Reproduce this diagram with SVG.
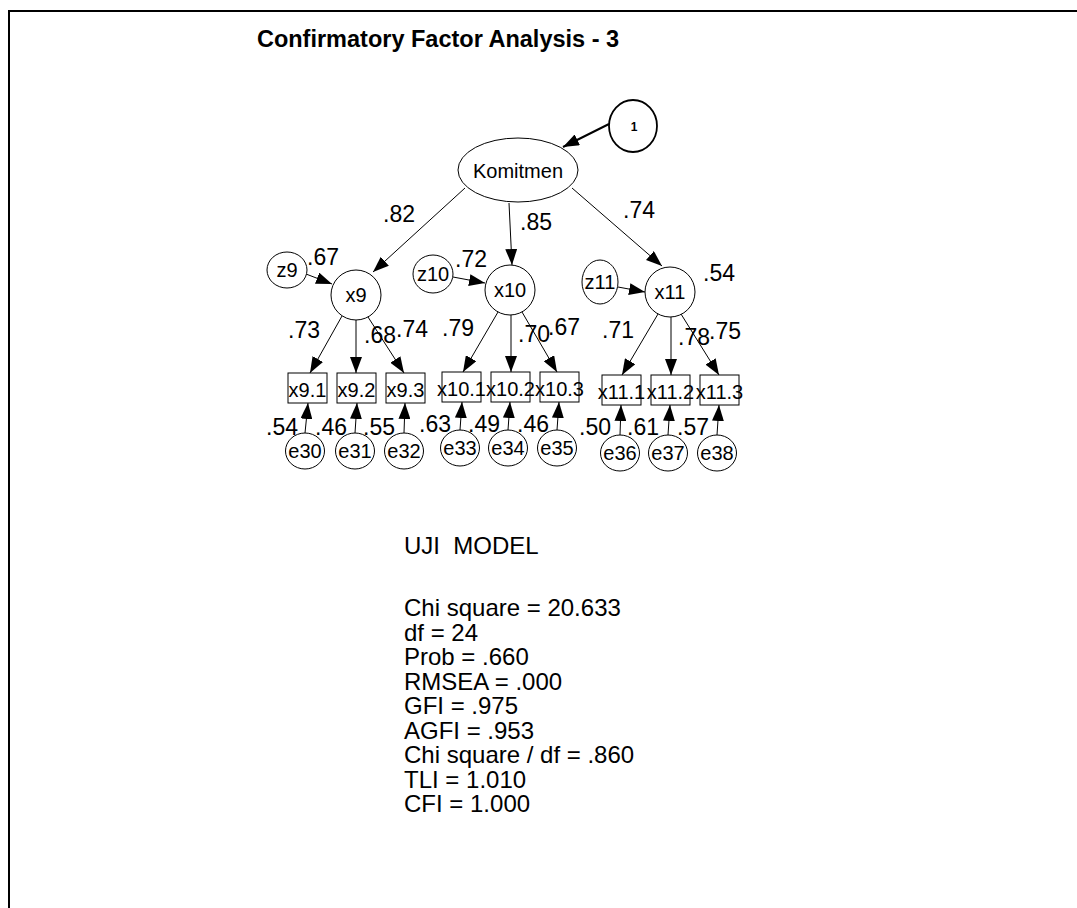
<svg xmlns="http://www.w3.org/2000/svg" width="1077" height="908" viewBox="0 0 1077 908">
<defs>
<marker id="ah" markerUnits="userSpaceOnUse" markerWidth="16" markerHeight="12" refX="16" refY="6" orient="auto">
<path d="M0,0 L16,6 L0,12 z" fill="#000"/>
</marker>
<style>
text{font-family:"Liberation Sans",Arial,sans-serif;fill:#000}
.n{font-size:20px;text-anchor:middle}
.b{font-size:20px;text-anchor:middle}
.l{font-size:23px}
.s{font-size:24px}
.sh{fill:#fff;stroke:#000;stroke-width:1}
.c line{stroke:#000;stroke-width:1;marker-end:url(#ah)}
.c line.th{stroke-width:2}
</style>
</defs>
<rect width="1077" height="908" fill="#fff"/>
<path d="M9,908 V11 H1077" fill="none" stroke="#000" stroke-width="2"/>
<text x="438" y="47" text-anchor="middle" style="font-size:23.5px;font-weight:bold">Confirmatory Factor Analysis - 3</text>

<g id="connectors" class="c">
<line class="th" x1="609" y1="124" x2="563" y2="147"/>
<line x1="465" y1="188" x2="373" y2="272"/>
<line x1="509" y1="203" x2="512" y2="265"/>
<line x1="572" y1="188" x2="662" y2="266"/>
<line x1="306" y1="274" x2="332" y2="284"/>
<line x1="453" y1="277" x2="485" y2="283"/>
<line x1="618" y1="287" x2="645" y2="292"/>
<line x1="342" y1="316" x2="310" y2="373"/>
<line x1="356" y1="320" x2="356" y2="373"/>
<line x1="368" y1="317" x2="404" y2="373"/>
<line x1="498" y1="312" x2="463" y2="372"/>
<line x1="511" y1="315" x2="511" y2="372"/>
<line x1="522" y1="312" x2="557" y2="372"/>
<line x1="658" y1="314" x2="622" y2="375"/>
<line x1="671" y1="317" x2="671" y2="375"/>
<line x1="681" y1="314" x2="719" y2="375"/>
<line x1="305" y1="433" x2="308" y2="403"/>
<line x1="355" y1="433" x2="357" y2="403"/>
<line x1="404" y1="433" x2="405" y2="403"/>
<line x1="460" y1="430" x2="462" y2="402"/>
<line x1="508" y1="430" x2="510" y2="402"/>
<line x1="557" y1="430" x2="559" y2="402"/>
<line x1="620" y1="435" x2="621" y2="405"/>
<line x1="668" y1="435" x2="670" y2="405"/>
<line x1="717" y1="435" x2="719" y2="405"/>
</g>

<g id="one"><ellipse class="sh" cx="633" cy="126" rx="24" ry="26" style="stroke-width:1.8"/><text x="634" y="131" text-anchor="middle" style="font-size:12px;font-weight:bold">1</text></g>
<g id="komitmen"><ellipse class="sh" cx="518" cy="170" rx="60" ry="32"/><text class="n" x="518" y="178">Komitmen</text></g>

<g id="z9"><ellipse class="sh" cx="287" cy="270" rx="20" ry="18"/><text class="n" x="287" y="277">z9</text></g>
<g id="z10"><ellipse class="sh" cx="433" cy="274" rx="20" ry="19"/><text class="n" x="433" y="281">z10</text></g>
<g id="z11"><ellipse class="sh" cx="600" cy="282" rx="18" ry="22"/><text class="n" x="600" y="289">z11</text></g>

<g id="x9"><circle class="sh" cx="356" cy="295" r="25"/><text class="n" x="356" y="302">x9</text></g>
<g id="x10"><circle class="sh" cx="510" cy="290" r="25"/><text class="n" x="510" y="297">x10</text></g>
<g id="x11"><circle class="sh" cx="670" cy="292" r="25"/><text class="n" x="670" y="299">x11</text></g>

<g id="x9_1"><rect class="sh" x="288" y="373" width="39" height="30"/><text class="b" x="307.5" y="397">x9.1</text></g>
<g id="x9_2"><rect class="sh" x="337" y="373" width="39" height="30"/><text class="b" x="356.5" y="397">x9.2</text></g>
<g id="x9_3"><rect class="sh" x="386" y="373" width="39" height="30"/><text class="b" x="405.5" y="397">x9.3</text></g>
<g id="x10_1"><rect class="sh" x="442" y="372" width="39" height="30"/><text class="b" x="461.5" y="396">x10.1</text></g>
<g id="x10_2"><rect class="sh" x="491" y="372" width="39" height="30"/><text class="b" x="510.5" y="396">x10.2</text></g>
<g id="x10_3"><rect class="sh" x="540" y="372" width="39" height="30"/><text class="b" x="559.5" y="396">x10.3</text></g>
<g id="x11_1"><rect class="sh" x="602" y="375" width="39" height="30"/><text class="b" x="621.5" y="399">x11.1</text></g>
<g id="x11_2"><rect class="sh" x="651" y="375" width="39" height="30"/><text class="b" x="670.5" y="399">x11.2</text></g>
<g id="x11_3"><rect class="sh" x="700" y="375" width="39" height="30"/><text class="b" x="719.5" y="399">x11.3</text></g>

<g id="e30"><ellipse class="sh" cx="305" cy="451" rx="19.5" ry="18"/><text class="n" x="305" y="458">e30</text></g>
<g id="e31"><ellipse class="sh" cx="355" cy="451" rx="19.5" ry="18"/><text class="n" x="355" y="458">e31</text></g>
<g id="e32"><ellipse class="sh" cx="404" cy="451" rx="19.5" ry="18"/><text class="n" x="404" y="458">e32</text></g>
<g id="e33"><ellipse class="sh" cx="460" cy="448" rx="19.5" ry="18"/><text class="n" x="460" y="455">e33</text></g>
<g id="e34"><ellipse class="sh" cx="508" cy="448" rx="19.5" ry="18"/><text class="n" x="508" y="455">e34</text></g>
<g id="e35"><ellipse class="sh" cx="557" cy="448" rx="19.5" ry="18"/><text class="n" x="557" y="455">e35</text></g>
<g id="e36"><ellipse class="sh" cx="620" cy="453" rx="19.5" ry="18"/><text class="n" x="620" y="460">e36</text></g>
<g id="e37"><ellipse class="sh" cx="668" cy="453" rx="19.5" ry="18"/><text class="n" x="668" y="460">e37</text></g>
<g id="e38"><ellipse class="sh" cx="717" cy="453" rx="19.5" ry="18"/><text class="n" x="717" y="460">e38</text></g>

<g id="labels" class="l">
<text x="383" y="222">.82</text>
<text x="520" y="230">.85</text>
<text x="623" y="218">.74</text>
<text x="307" y="265">.67</text>
<text x="455" y="267">.72</text>
<text x="703" y="281">.54</text>
<text x="288" y="338">.73</text>
<text x="364" y="343">.68</text>
<text x="396" y="337">.74</text>
<text x="442" y="336">.79</text>
<text x="518" y="342">.70</text>
<text x="548" y="335">.67</text>
<text x="602" y="338">.71</text>
<text x="678" y="345">.78</text>
<text x="709" y="339">.75</text>
<text x="266" y="435">.54</text>
<text x="315" y="435">.46</text>
<text x="363" y="435">.55</text>
<text x="419" y="432">.63</text>
<text x="468" y="432">.49</text>
<text x="517" y="432">.46</text>
<text x="579" y="435">.50</text>
<text x="627" y="435">.61</text>
<text x="677" y="435">.57</text>
</g>

<g id="stats" class="s">
<text x="404" y="554" xml:space="preserve">UJI  MODEL</text>
<text x="404" y="616">Chi square = 20.633</text>
<text x="404" y="640.5">df = 24</text>
<text x="404" y="665">Prob = .660</text>
<text x="404" y="689.5">RMSEA = .000</text>
<text x="404" y="714">GFI = .975</text>
<text x="404" y="738.5">AGFI = .953</text>
<text x="404" y="763">Chi square / df = .860</text>
<text x="404" y="787.5">TLI = 1.010</text>
<text x="404" y="812">CFI = 1.000</text>
</g>
</svg>
